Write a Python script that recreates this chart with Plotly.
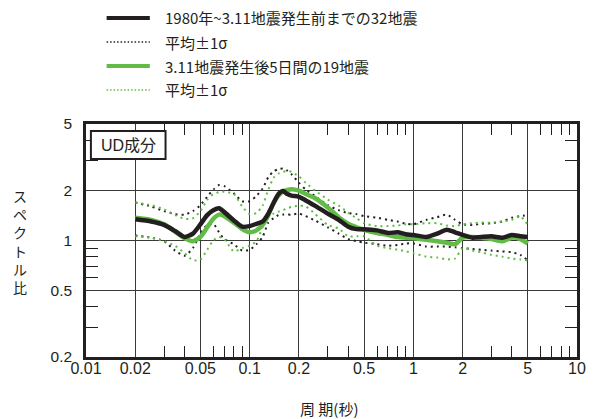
import plotly.graph_objects as go

# ---- data ----
PERIOD = [0.02, 0.025, 0.03, 0.035, 0.04, 0.045, 0.05, 0.055, 0.06, 0.065, 0.07, 0.08, 0.09,
          0.1, 0.11, 0.12, 0.13, 0.14, 0.15, 0.16, 0.17, 0.18, 0.2, 0.22, 0.25, 0.3, 0.35,
          0.4, 0.45, 0.5, 0.6, 0.7, 0.8, 0.9, 1.0, 1.2, 1.4, 1.6, 1.8, 2.0, 2.3, 2.6, 3.0,
          3.5, 4.0, 4.5, 5.0]

BEFORE_MEAN = [1.34, 1.30, 1.24, 1.14, 1.05, 1.10, 1.25, 1.42, 1.52, 1.56, 1.48, 1.32, 1.21,
               1.22, 1.26, 1.30, 1.45, 1.68, 1.90, 1.98, 1.90, 1.86, 1.83, 1.74, 1.62, 1.45, 1.33,
               1.21, 1.17, 1.17, 1.15, 1.11, 1.12, 1.09, 1.08, 1.05, 1.10, 1.16, 1.12, 1.08, 1.04,
               1.05, 1.06, 1.04, 1.08, 1.06, 1.05]
BEFORE_UPPER = [1.69, 1.60, 1.50, 1.44, 1.43, 1.50, 1.63, 1.83, 2.02, 2.15, 2.12, 1.92, 1.72,
                1.72, 1.85, 2.05, 2.40, 2.60, 2.68, 2.70, 2.62, 2.50, 2.22, 2.02, 1.85, 1.63, 1.52,
                1.46, 1.44, 1.40, 1.37, 1.33, 1.30, 1.26, 1.25, 1.33, 1.38, 1.43, 1.33, 1.25, 1.24,
                1.26, 1.27, 1.30, 1.37, 1.40, 1.42]
BEFORE_LOWER = [1.07, 1.04, 0.99, 0.87, 0.81, 0.90, 1.10, 1.24, 1.26, 1.12, 1.02, 0.95, 0.87,
                0.88, 0.95, 1.05, 1.28, 1.36, 1.42, 1.43, 1.43, 1.43, 1.45, 1.40, 1.32, 1.20, 1.10,
                1.02, 0.99, 0.97, 0.95, 0.93, 0.94, 0.96, 0.96, 0.92, 0.92, 0.92, 0.91, 0.90, 0.89,
                0.88, 0.87, 0.86, 0.85, 0.82, 0.76]

AFTER_MEAN = [1.37, 1.33, 1.25, 1.13, 1.03, 0.99, 1.05, 1.20, 1.35, 1.43, 1.40, 1.28, 1.17,
              1.12, 1.15, 1.24, 1.42, 1.68, 1.86, 1.97, 2.01, 2.03, 1.99, 1.90, 1.80, 1.58, 1.38,
              1.26, 1.20, 1.16, 1.11, 1.08, 1.05, 1.04, 1.03, 1.01, 0.99, 0.97, 0.95, 1.04, 1.05,
              1.04, 1.02, 0.99, 1.04, 1.02, 0.96]
AFTER_UPPER = [1.69, 1.63, 1.54, 1.42, 1.35, 1.36, 1.50, 1.75, 1.90, 1.95, 1.96, 1.90, 1.60,
               1.44, 1.46, 1.62, 2.02, 2.38, 2.52, 2.58, 2.61, 2.58, 2.42, 2.22, 2.00, 1.76, 1.62,
               1.47, 1.36, 1.27, 1.22, 1.22, 1.23, 1.25, 1.25, 1.27, 1.27, 1.23, 1.22, 1.25, 1.27,
               1.28, 1.28, 1.30, 1.33, 1.40, 1.24]
AFTER_LOWER = [1.06, 1.04, 0.99, 0.93, 0.84, 0.76, 0.77, 0.88, 1.00, 1.05, 1.02, 0.86, 0.90,
               0.93, 0.99, 1.20, 1.38, 1.45, 1.49, 1.52, 1.56, 1.59, 1.62, 1.60, 1.45, 1.24, 1.18,
               1.06, 1.06, 1.06, 0.93, 0.90, 0.88, 0.86, 0.84, 0.80, 0.79, 0.77, 0.78, 0.90, 0.87,
               0.85, 0.82, 0.80, 0.78, 0.77, 0.76]

X_TICKS = [0.01, 0.02, 0.05, 0.1, 0.2, 0.5, 1, 2, 5, 10]
X_TICK_TEXT = ["0.01", "0.02", "0.05", "0.1", "0.2", "0.5", "1", "2", "5", "10"]
X_MINOR = [0.03, 0.04, 0.06, 0.07, 0.08, 0.09, 0.3, 0.4, 0.6, 0.7, 0.8, 0.9,
           3, 4, 6, 7, 8, 9]
Y_TICKS = [0.2, 0.5, 1, 2, 5]
Y_TICK_TEXT = ["0.2", "0.5", "1", "2", "5"]
Y_MINOR = [0.3, 0.4, 0.6, 0.7, 0.8, 0.9, 3, 4]

LEGEND_LABELS = ["1980年~3.11地震発生前までの32地震", "平均±1σ",
                 "3.11地震発生後5日間の19地震", "平均±1σ"]

BLACK = "#231f20"
GREEN = "#62bb46"
FONT = "Liberation Sans, Arial, Noto Sans CJK JP"
CJK_FONT = "Noto Sans CJK JP, Liberation Sans"

fig = go.Figure()
dot = "2px,4px"
for ys, col in [(BEFORE_UPPER, BLACK), (BEFORE_LOWER, BLACK),
                (AFTER_UPPER, GREEN), (AFTER_LOWER, GREEN)]:
    fig.add_trace(go.Scatter(x=PERIOD, y=ys, mode="lines",
                             line=dict(color=col, width=2, dash=dot, shape="spline", smoothing=0.6),
                             showlegend=False, hoverinfo="skip"))
fig.add_trace(go.Scatter(x=PERIOD, y=AFTER_MEAN, mode="lines",
                         line=dict(color=GREEN, width=4.5, shape="spline", smoothing=0.6),
                         showlegend=False))
fig.add_trace(go.Scatter(x=PERIOD, y=BEFORE_MEAN, mode="lines",
                         line=dict(color=BLACK, width=4.5, shape="spline", smoothing=0.6),
                         showlegend=False))

# page body has an 8px margin: work in window pixels, shift by OFF
OFF = 8
W, H = 597 - OFF, 419 - OFF
L, R, T, B = 86 - OFF, 11, 124 - OFF, 62
PW, PH = W - L - R, H - T - B


def px(x):
    return (x - OFF - L) / PW


def py(y):
    return (H - B - (y - OFF)) / PH


axis_common = dict(
    type="log", showline=True, linecolor=BLACK, linewidth=2.5, mirror="allticks",
    showgrid=True, gridcolor="#3a3a3a", gridwidth=1.2, ticks="", zeroline=False,
    tickfont=dict(family=FONT, size=16, color=BLACK),
)
fig.update_xaxes(**axis_common, range=[-2, 1], tickvals=X_TICKS, ticktext=X_TICK_TEXT,
                 ticklabelstandoff=-5,
                 minor=dict(tickvals=X_MINOR, ticks="inside", ticklen=11, tickwidth=1.2,
                            tickcolor=BLACK, showgrid=False))
fig.update_yaxes(**{**axis_common, "tickfont": dict(family=FONT, size=15.5, color=BLACK)},
                 range=[-0.69897, 0.69897], tickvals=Y_TICKS, ticktext=Y_TICK_TEXT,
                 ticklabelstandoff=8,
                 minor=dict(tickvals=Y_MINOR, ticks="inside", ticklen=12, tickwidth=1.2,
                            tickcolor=BLACK, showgrid=False))

shapes = []
annotations = []
# UD box
shapes.append(dict(type="rect", xref="paper", yref="paper", x0=px(91), x1=px(167),
                   y0=py(159), y1=py(131), line=dict(color=BLACK, width=2),
                   fillcolor="white", layer="above"))
annotations.append(dict(text="UD成分", xref="paper", yref="paper", x=px(129), y=py(145),
                        showarrow=False, xanchor="center", yanchor="middle",
                        font=dict(family=FONT, size=16, color=BLACK)))

# legend
rows = [18, 42, 66, 90]
styles = [dict(color=BLACK, width=4), dict(color=BLACK, width=1.5, dash="1.5px,2px"),
          dict(color=GREEN, width=4), dict(color=GREEN, width=1.5, dash="1.5px,2px")]
for ry, st, lab in zip(rows, styles, LEGEND_LABELS):
    shapes.append(dict(type="line", xref="paper", yref="paper", x0=px(107), x1=px(151),
                       y0=py(ry), y1=py(ry), line=st))
    annotations.append(dict(text=lab, xref="paper", yref="paper", x=px(164), y=py(ry),
                            showarrow=False, xanchor="left", yanchor="middle",
                            font=dict(family=CJK_FONT, size=15, color=BLACK)))

# axis titles
annotations.append(dict(text="周 期(秒)", xref="paper", yref="paper", x=px(334), y=py(408),
                        showarrow=False, xanchor="center", yanchor="middle",
                        font=dict(family=CJK_FONT, size=15, color=BLACK)))
annotations.append(dict(text="<br>".join(list("スペクトル比")), xref="paper", yref="paper",
                        x=px(19), y=py(241), showarrow=False, xanchor="center", yanchor="middle",
                        font=dict(family=CJK_FONT, size=14, color=BLACK)))

fig.update_layout(width=W, height=H, margin=dict(l=L, r=R, t=T, b=B),
                  plot_bgcolor="white", paper_bgcolor="white",
                  shapes=shapes, annotations=annotations, showlegend=False)

fig.write_html("out.html")
